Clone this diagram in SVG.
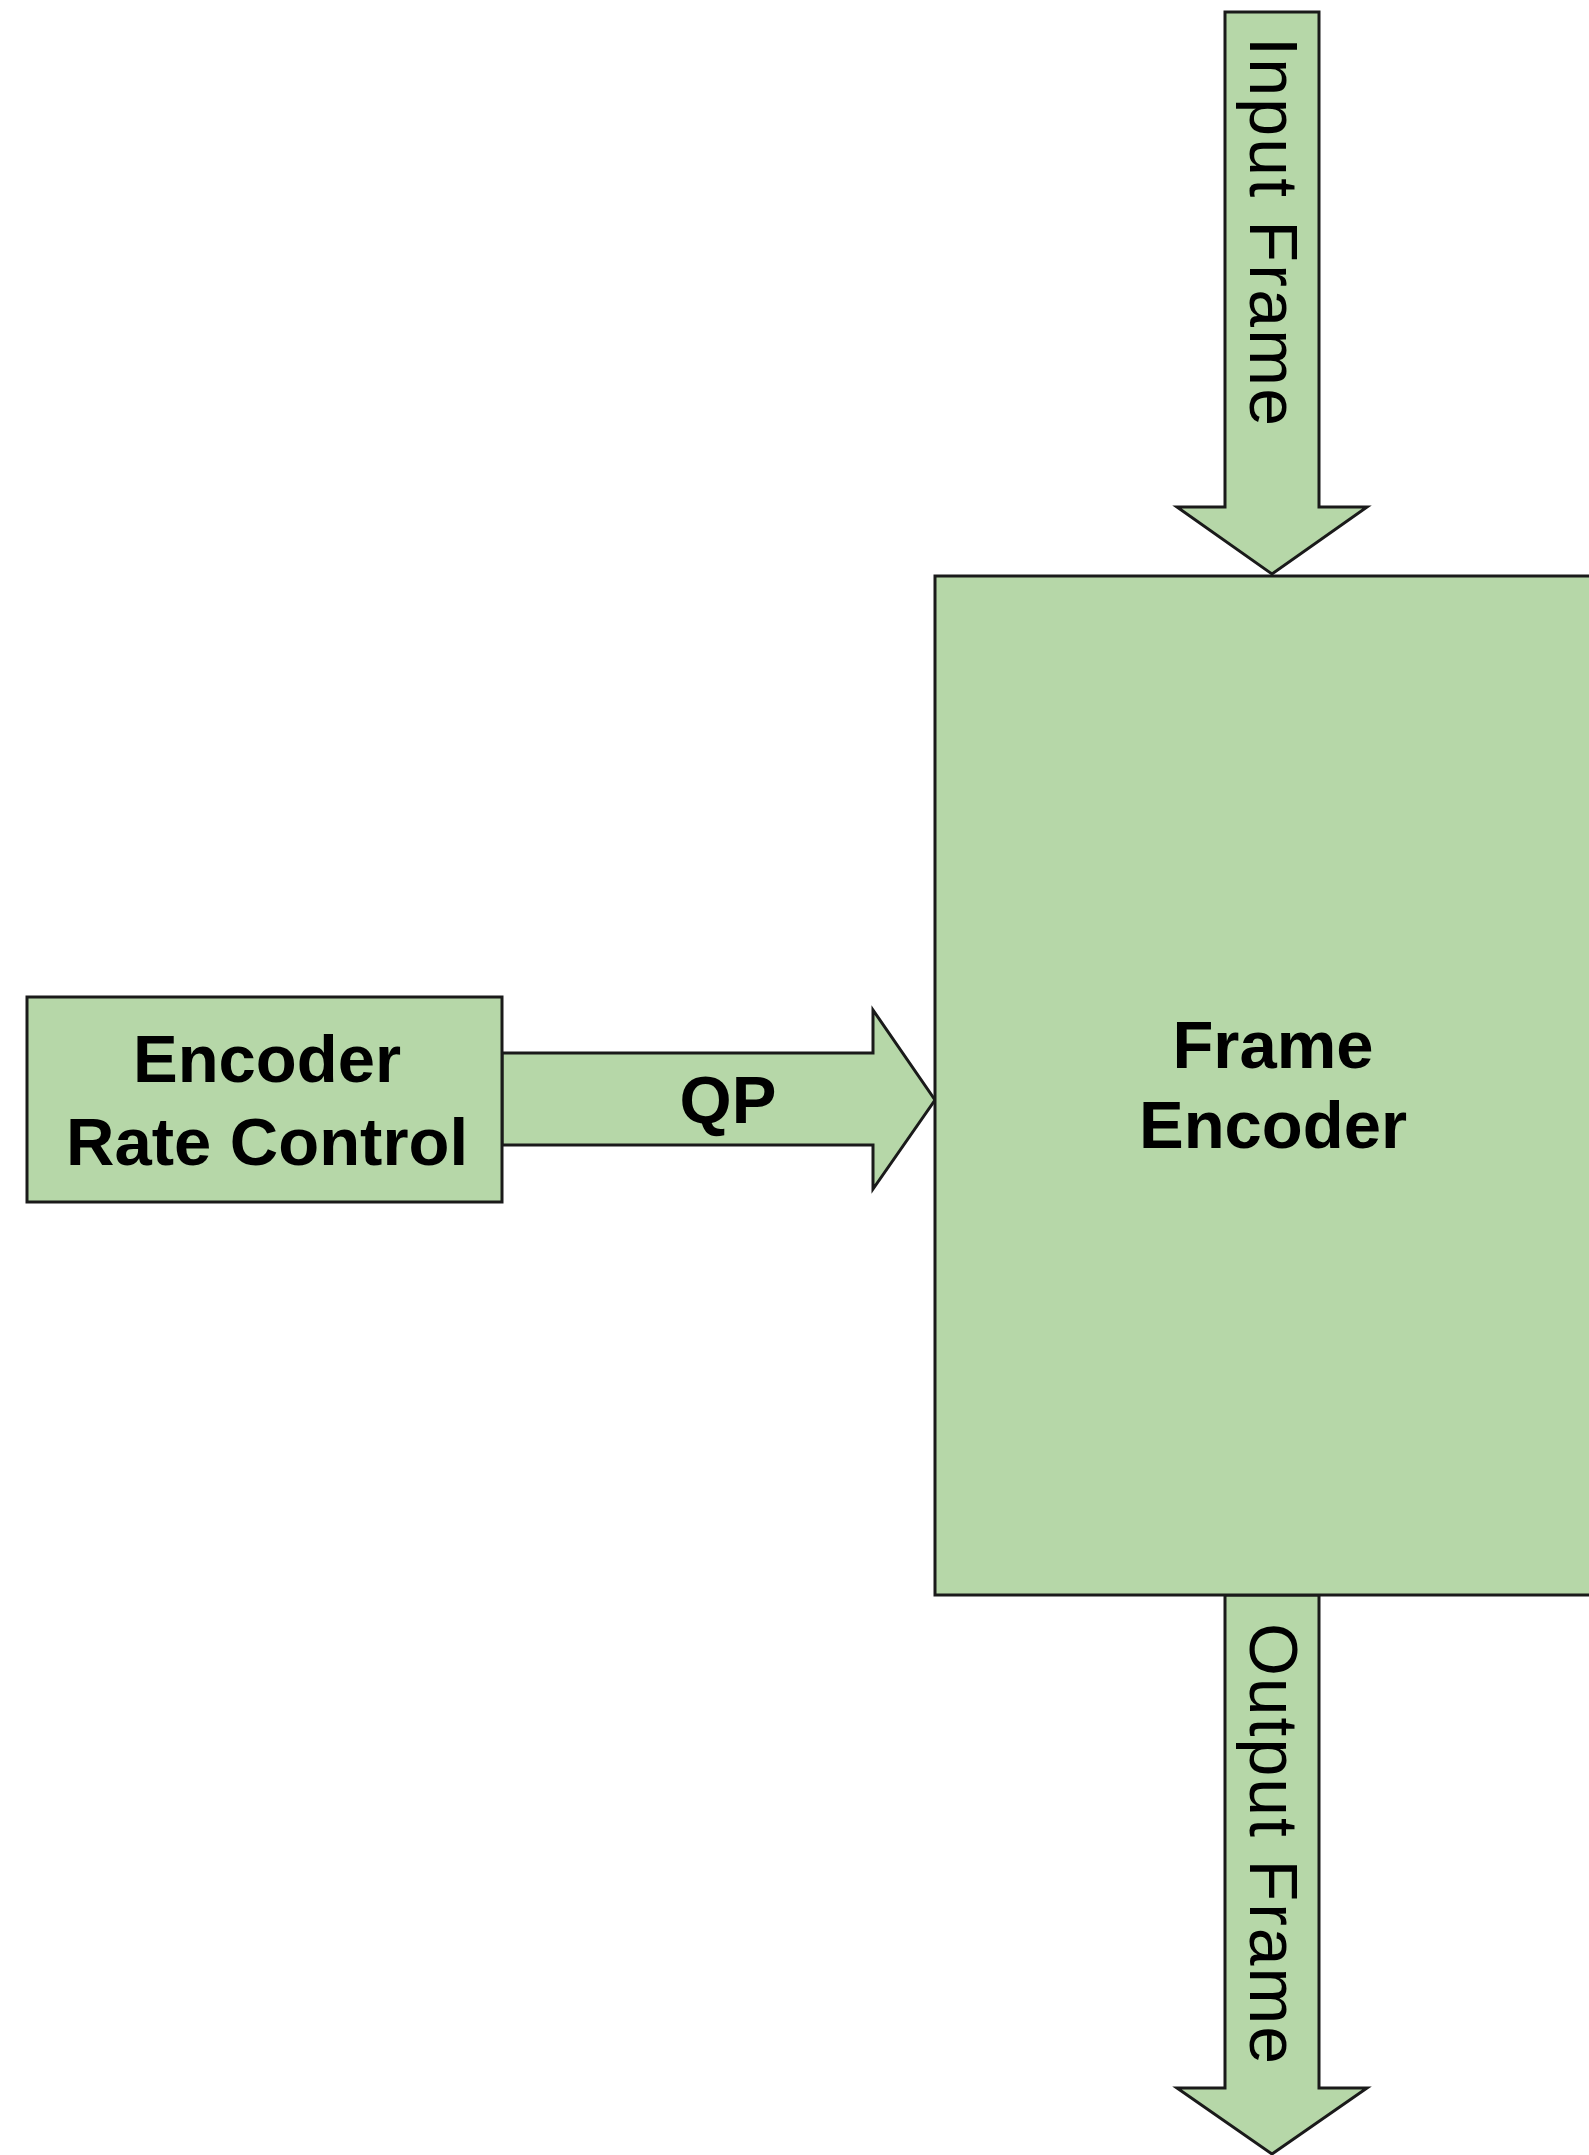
<svg xmlns="http://www.w3.org/2000/svg" width="1589" height="2155" viewBox="0 0 1589 2155">
<style>
.shape{fill:#b6d7a8;stroke:#1a1a1a;stroke-width:3;stroke-linejoin:miter}
.lbl{font-family:"Liberation Sans",Arial,sans-serif;font-weight:bold;font-size:67px;fill:#000;text-anchor:middle}
.vlbl{font-family:"Liberation Sans",Arial,sans-serif;font-size:68px;fill:#000}
</style>
<rect width="1589" height="2155" fill="#ffffff"/>
<g id="connectors">
  <g id="input-frame">
    <polygon class="shape" points="1225,12 1319,12 1319,507 1367,507 1272,574 1177,507 1225,507"/>
    <text class="vlbl" x="1250" y="37" transform="rotate(90 1250 37)" textLength="389" lengthAdjust="spacing">Input Frame</text>
  </g>
  <g id="output-frame">
    <polygon class="shape" points="1225,1595 1319,1595 1319,2088 1367,2088 1272,2154 1177,2088 1225,2088"/>
    <text class="vlbl" x="1250" y="1623" transform="rotate(90 1250 1623)" textLength="441" lengthAdjust="spacing">Output Frame</text>
  </g>
  <g id="qp">
    <polygon class="shape" points="502,1053 873,1053 873,1010 935,1100 873,1189 873,1145 502,1145"/>
    <text class="lbl" x="728" y="1123">QP</text>
  </g>
</g>
<g id="frame-encoder">
  <rect class="shape" x="935" y="576" width="680" height="1019"/>
  <text class="lbl" x="1273" y="1068">Frame</text>
  <text class="lbl" x="1273" y="1148">Encoder</text>
</g>
<g id="rate-control">
  <rect class="shape" x="27" y="997" width="475" height="205"/>
  <text class="lbl" x="267" y="1082">Encoder</text>
  <text class="lbl" x="267" y="1165">Rate Control</text>
</g>
</svg>
